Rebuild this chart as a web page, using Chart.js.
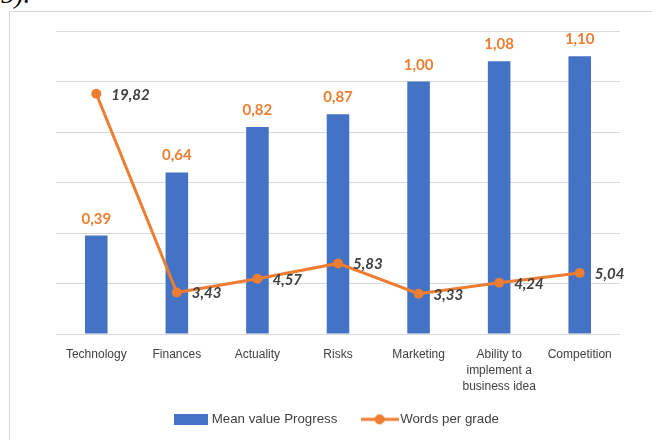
<!DOCTYPE html>
<html><head><meta charset="utf-8">
<script src="https://cdn.jsdelivr.net/npm/chart.js@4"></script>
<style>
html,body{margin:0;padding:0;width:652px;height:440px;overflow:hidden;background:#fff;}
#frame{position:absolute;left:9px;top:11px;width:700px;height:500px;border:1px solid #d9d9d9;box-sizing:border-box;}
#cut{position:absolute;left:1px;top:-21px;font:italic 27px "Liberation Serif",serif;color:#000;}
#c{position:absolute;left:0;top:0;}
</style></head><body>
<div id="cut">5).</div>
<div id="frame"></div>
<canvas id="c" width="652" height="440"></canvas>
<script>
const categories = ["Technology","Finances","Actuality","Risks","Marketing",["Ability to","implement a","business idea"],"Competition"];
const meanProgress = [0.39,0.64,0.82,0.87,1.00,1.08,1.10];
const wordsPerGrade = [19.82,3.43,4.57,5.83,3.33,4.24,5.04];
const seriesNames = ["Mean value Progress","Words per grade"];
const barAxisRange = [0,1.2,0.2];
const lineAxisRange = [0,25,5];

const BLUE = '#4472C4', ORANGE = '#ED7D31', TEXT = '#404040';
const fmt = v => v.toFixed(2).replace('.', ',');

function makeRect(){const c=document.createElement('canvas');c.width=34;c.height=11;const x=c.getContext('2d');x.fillStyle=BLUE;x.fillRect(0,0,34,11);return c;}
function makeLine(){const c=document.createElement('canvas');c.width=38;c.height=12;const x=c.getContext('2d');x.strokeStyle=ORANGE;x.lineWidth=3;x.beginPath();x.moveTo(0,6);x.lineTo(38,6);x.stroke();x.fillStyle=ORANGE;x.beginPath();x.arc(19,6,5,0,Math.PI*2);x.fill();return c;}

const valueLabels = {
  id:'valueLabels',
  afterDatasetsDraw(chart){
    const ctx = chart.ctx;
    chart.data.datasets.forEach((ds,i)=>{
      const meta = chart.getDatasetMeta(i);
      meta.data.forEach((el,j)=>{
        const txt = fmt(ds.data[j]);
        ctx.save();
        if (ds.type === 'bar') {
          ctx.font = 'bold 15px Lato'; ctx.fillStyle = ORANGE;
          ctx.textAlign = 'center'; ctx.textBaseline = 'alphabetic';
          ctx.fillText(txt, el.x, el.y - 12);
        } else {
          ctx.font = 'italic bold 15px Lato'; ctx.fillStyle = TEXT;
          ctx.textAlign = 'left'; ctx.textBaseline = 'middle';
          ctx.fillText(txt, el.x + 15, el.y + 1);
        }
        ctx.restore();
      });
    });
  }
};

new Chart(document.getElementById('c'), {
  data: {
    labels: categories,
    datasets: [
      {type:'line', label: seriesNames[1], data: wordsPerGrade, yAxisID:'y1',
       borderColor: ORANGE, backgroundColor: ORANGE, borderWidth: 3,
       pointRadius: 5, pointBackgroundColor: ORANGE, pointBorderWidth: 0, tension: 0, order: 0},
      {type:'bar', label: seriesNames[0], data: meanProgress, yAxisID:'y',
       backgroundColor: BLUE, categoryPercentage: 1, barPercentage: 0.28, order: 1}
    ]
  },
  options: {
    responsive: false,
    animation: false,
    layout: {padding: {left: 56, right: 32, top: 31, bottom: 4}},
    scales: {
      x: {
        grid: {display: false, drawTicks: false},
        border: {display: false},
        ticks: {font: {family: 'Liberation Sans', size: 12, lineHeight: 1.35}, color: TEXT, padding: 12, maxRotation: 0, autoSkip: false}
      },
      y: {
        position: 'left', min: barAxisRange[0], max: barAxisRange[1],
        ticks: {display: false, stepSize: barAxisRange[2]},
        grid: {color: '#d9d9d9', lineWidth: 1, drawTicks: false},
        border: {display: false}
      },
      y1: {
        position: 'right', min: lineAxisRange[0], max: lineAxisRange[1], display: false,
        ticks: {stepSize: lineAxisRange[2]}, grid: {display: false}
      }
    },
    plugins: {
      tooltip: {enabled: false},
      legend: {
        position: 'bottom',
        labels: {
          usePointStyle: true, pointStyleWidth: 28, boxHeight: 11, padding: 6,
          font: {family: 'Liberation Sans', size: 13.3}, color: TEXT,
          generateLabels(){
            return [
              {text: seriesNames[0] + '      ', pointStyle: makeRect(), fillStyle: BLUE, strokeStyle: BLUE, lineWidth: 0, datasetIndex: 1, fontColor: TEXT},
              {text: seriesNames[1], pointStyle: makeLine(), fillStyle: ORANGE, strokeStyle: ORANGE, lineWidth: 0, datasetIndex: 0, fontColor: TEXT}
            ];
          }
        }
      }
    }
  },
  plugins: [valueLabels]
});
</script>
</body></html>
